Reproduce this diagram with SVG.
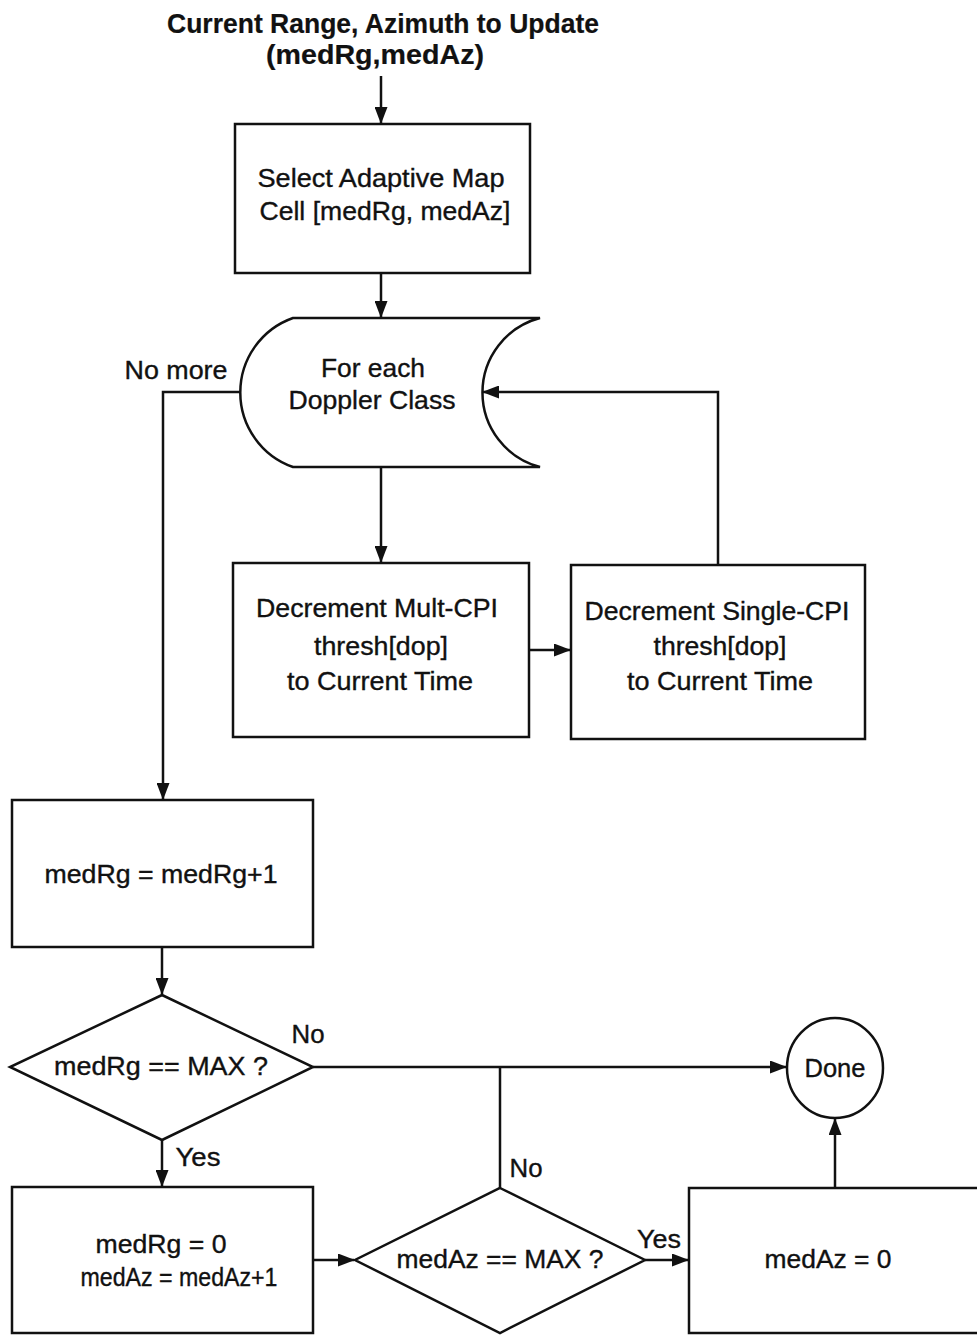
<svg xmlns="http://www.w3.org/2000/svg" width="977" height="1336" viewBox="0 0 977 1336">
<style>
.s{fill:none;stroke:#111;stroke-width:2.5}
.n{fill:#fff;stroke:#111;stroke-width:2.5}
.t{font-family:"Liberation Sans",Arial,sans-serif;font-size:25px;fill:#111;stroke:#111;stroke-width:0.35;text-anchor:middle}
.b{font-weight:bold;font-size:27px;stroke-width:0.2}
</style>
<defs>
<marker id="ah" markerWidth="17" markerHeight="13" refX="16" refY="6.5" orient="auto" markerUnits="userSpaceOnUse">
<path d="M0,0 L17,6.5 L0,13 z" fill="#111"/>
</marker>
</defs>
<g id="title">
<text class="t b" x="383" y="33" textLength="432" lengthAdjust="spacingAndGlyphs">Current Range, Azimuth to Update</text>
<text class="t b" x="375" y="64" textLength="218" lengthAdjust="spacingAndGlyphs">(medRg,medAz)</text>
</g>
<g id="select">
<rect class="n" x="235" y="124" width="295" height="149"/>
<text class="t" x="381" y="187" textLength="247" lengthAdjust="spacingAndGlyphs">Select Adaptive Map</text>
<text class="t" x="385" y="220" textLength="251" lengthAdjust="spacingAndGlyphs">Cell [medRg, medAz]</text>
</g>
<g id="loop">
<path class="n" d="M293,318 H540 A77,77 0 0 0 540,467 H293 A79,79 0 0 1 293,318 Z"/>
<text class="t" x="373" y="377" textLength="104" lengthAdjust="spacingAndGlyphs">For each</text>
<text class="t" x="372" y="409" textLength="167" lengthAdjust="spacingAndGlyphs">Doppler Class</text>
</g>
<g id="multcpi">
<rect class="n" x="233" y="563" width="296" height="174"/>
<text class="t" x="377" y="617" textLength="242" lengthAdjust="spacingAndGlyphs">Decrement Mult-CPI</text>
<text class="t" x="381" y="655" textLength="134" lengthAdjust="spacingAndGlyphs">thresh[dop]</text>
<text class="t" x="380" y="690" textLength="186" lengthAdjust="spacingAndGlyphs">to Current Time</text>
</g>
<g id="singlecpi">
<rect class="n" x="571" y="565" width="294" height="174"/>
<text class="t" x="717" y="620" textLength="265" lengthAdjust="spacingAndGlyphs">Decrement Single-CPI</text>
<text class="t" x="720" y="655" textLength="133" lengthAdjust="spacingAndGlyphs">thresh[dop]</text>
<text class="t" x="720" y="690" textLength="186" lengthAdjust="spacingAndGlyphs">to Current Time</text>
</g>
<g id="incrg">
<rect class="n" x="12" y="800" width="301" height="147"/>
<text class="t" x="161" y="883" textLength="233" lengthAdjust="spacingAndGlyphs">medRg = medRg+1</text>
</g>
<g id="rgmax">
<polygon class="n" points="162,995 313,1067 162,1140 10,1067"/>
<text class="t" x="161" y="1075" textLength="214" lengthAdjust="spacingAndGlyphs">medRg == MAX ?</text>
</g>
<g id="done">
<ellipse class="n" cx="835" cy="1068" rx="48" ry="50"/>
<text class="t" x="835" y="1077" textLength="61" lengthAdjust="spacingAndGlyphs">Done</text>
</g>
<g id="resetrg">
<rect class="n" x="12" y="1187" width="301" height="146"/>
<text class="t" x="161" y="1253" textLength="131" lengthAdjust="spacingAndGlyphs">medRg = 0</text>
<text class="t" x="179" y="1286" textLength="197" lengthAdjust="spacingAndGlyphs">medAz = medAz+1</text>
</g>
<g id="azmax">
<polygon class="n" points="500,1188 645,1260 500,1333 355,1260"/>
<text class="t" x="500" y="1268" textLength="207" lengthAdjust="spacingAndGlyphs">medAz == MAX ?</text>
</g>
<g id="resetaz">
<rect class="n" x="689" y="1188" width="300" height="145"/>
<text class="t" x="828" y="1268" textLength="127" lengthAdjust="spacingAndGlyphs">medAz = 0</text>
</g>
<g id="connectors">
<path class="s" d="M381,76 V123" marker-end="url(#ah)"/>
<path class="s" d="M381,273 V317" marker-end="url(#ah)"/>
<path class="s" d="M240,392 H163 V799" marker-end="url(#ah)"/>
<path class="s" d="M381,467 V562" marker-end="url(#ah)"/>
<path class="s" d="M529,650 H570" marker-end="url(#ah)"/>
<path class="s" d="M718,565 V392 H483" marker-end="url(#ah)"/>
<path class="s" d="M162,947 V994" marker-end="url(#ah)"/>
<path class="s" d="M313,1067 H786" marker-end="url(#ah)"/>
<path class="s" d="M500,1188 V1067"/>
<path class="s" d="M162,1140 V1186" marker-end="url(#ah)"/>
<path class="s" d="M313,1260 H354" marker-end="url(#ah)"/>
<path class="s" d="M645,1260 H688" marker-end="url(#ah)"/>
<path class="s" d="M835,1188 V1119" marker-end="url(#ah)"/>
<text class="t" x="176" y="379" textLength="103" lengthAdjust="spacingAndGlyphs">No more</text>
<text class="t" x="308" y="1043" textLength="33" lengthAdjust="spacingAndGlyphs">No</text>
<text class="t" x="198" y="1166" textLength="45" lengthAdjust="spacingAndGlyphs">Yes</text>
<text class="t" x="526" y="1177" textLength="33" lengthAdjust="spacingAndGlyphs">No</text>
<text class="t" x="659" y="1248" textLength="44" lengthAdjust="spacingAndGlyphs">Yes</text>
</g>
</svg>
